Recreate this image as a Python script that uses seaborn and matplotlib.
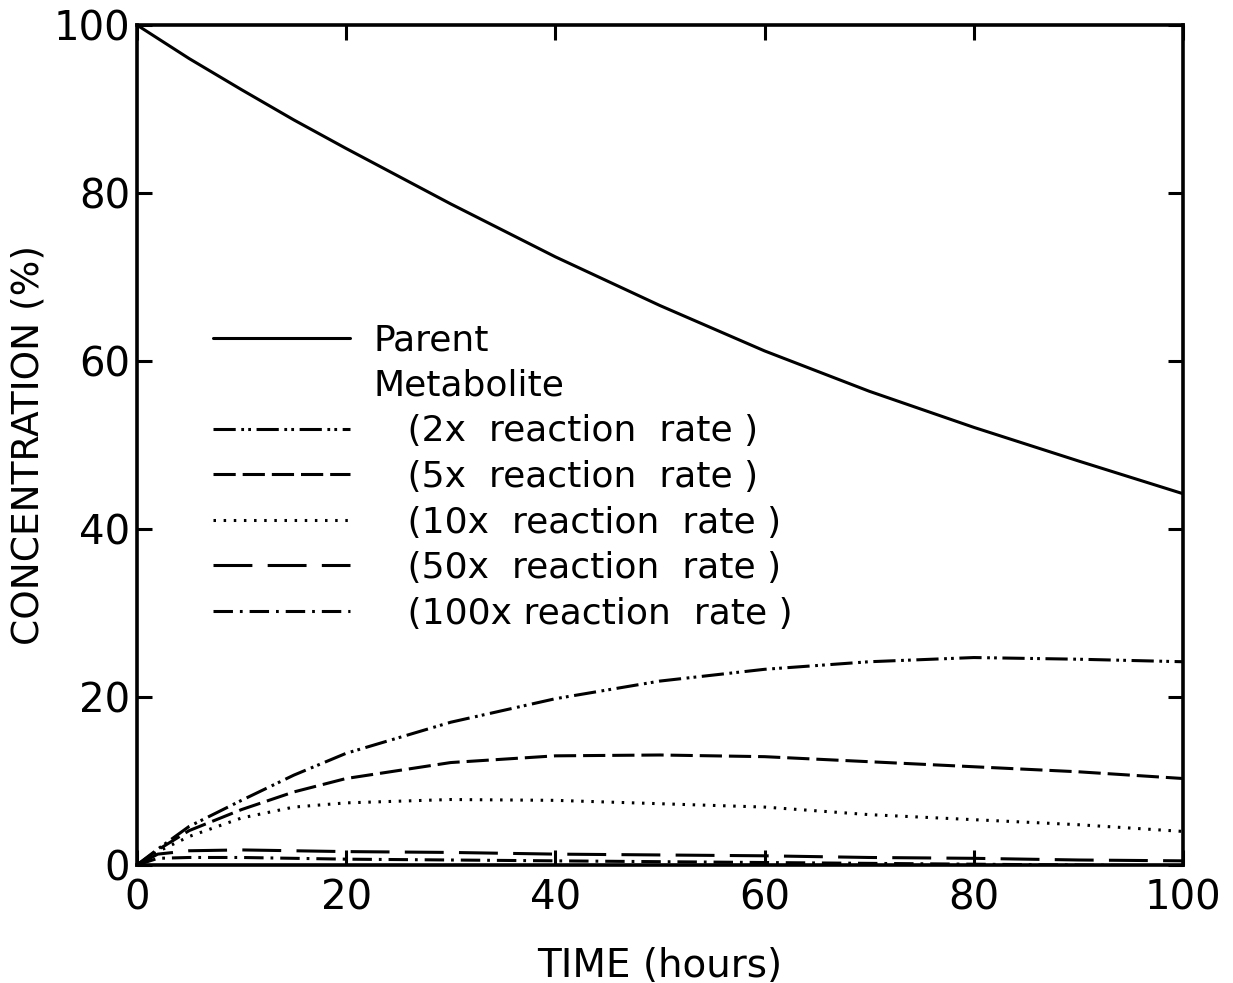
import matplotlib
matplotlib.use("Agg")
import matplotlib.pyplot as plt
from matplotlib.lines import Line2D
import seaborn as sns
import pandas as pd

# ---- data ----
time_h = [0, 2, 5, 10, 15, 20, 30, 40, 50, 60, 70, 80, 90, 100]
parent = [100, 98.4, 96.0, 92.3, 88.7, 85.3, 78.7, 72.4, 66.6, 61.2, 56.4, 52.1, 48.1, 44.2]
met_2x = [0, 1.9, 4.6, 7.7, 10.7, 13.3, 17.0, 19.8, 21.9, 23.3, 24.2, 24.7, 24.5, 24.2]
met_5x = [0, 1.8, 4.1, 6.6, 8.7, 10.3, 12.2, 13.0, 13.1, 12.9, 12.3, 11.7, 11.1, 10.3]
met_10x = [0, 1.6, 3.4, 5.6, 6.9, 7.4, 7.8, 7.7, 7.3, 6.9, 6.0, 5.4, 4.8, 4.0]
met_50x = [0, 1.3, 1.7, 1.8, 1.7, 1.6, 1.5, 1.3, 1.2, 1.1, 0.9, 0.8, 0.6, 0.5]
met_100x = [0, 0.8, 0.9, 0.9, 0.8, 0.7, 0.6, 0.5, 0.4, 0.3, 0.2, 0.1, 0.0, -0.1]

series_names = ["Parent", "   (2x  reaction  rate )", "   (5x  reaction  rate )",
                "   (10x  reaction  rate )", "   (50x  reaction  rate )",
                "   (100x reaction  rate )"]
x_ticks = [0, 20, 40, 60, 80, 100]
y_ticks = [0, 20, 40, 60, 80, 100]

sns.set_style("ticks")
plt.rcParams["font.family"] = ["DejaVu Sans"]
plt.rcParams["lines.scale_dashes"] = False
plt.rcParams["text.color"] = "black"
plt.rcParams["axes.labelcolor"] = "black"

fig = plt.figure(figsize=(12.33, 9.83), dpi=100)
ax = fig.add_axes([0.111, 0.12, 0.8485, 0.8546])

styles = [
    "-",
    (0, (16, 4, 2, 3, 2, 4)),
    (0, (16, 5)),
    (0, (1.8, 5.5)),
    (0, (28, 11)),
    (0, (14, 5, 2, 5)),
]
values = [parent, met_2x, met_5x, met_10x, met_50x, met_100x]

for name, vals, ls in zip(series_names, values, styles):
    df = pd.DataFrame({"t": time_h, "c": vals})
    sns.lineplot(data=df, x="t", y="c", ax=ax, color="black", linewidth=2.2,
                 linestyle=ls, legend=False)

ax.set_xlim(0, 100)
ax.set_ylim(0, 100)
ax.set_xticks(x_ticks)
ax.set_yticks(y_ticks)
ax.tick_params(direction="in", length=11, width=2.2, top=True, right=True,
               labelsize=29, colors="black")
ax.tick_params(axis="x", pad=10)
ax.tick_params(axis="y", pad=5)
for sp in ax.spines.values():
    sp.set_linewidth(2.6)
    sp.set_color("black")

ax.set_xlabel("TIME (hours)", fontsize=28, labelpad=20)
ax.set_ylabel("CONCENTRATION (%)", fontsize=27, labelpad=5)

handles = [
    Line2D([], [], color="black", lw=2.2, ls=styles[0]),
    Line2D([], [], linestyle="none"),
]
labels = ["Parent", "Metabolite"]
for name, ls in zip(series_names[1:], styles[1:]):
    handles.append(Line2D([], [], color="black", lw=2.2, ls=ls))
    labels.append(name)

leg = ax.legend(handles, labels, loc="upper left", bbox_to_anchor=(0.059, 0.662),
                frameon=False, fontsize=26, handlelength=3.8, handletextpad=0.64,
                labelspacing=0.32, borderaxespad=0)

fig.savefig("out.png", dpi=100, facecolor="white")
